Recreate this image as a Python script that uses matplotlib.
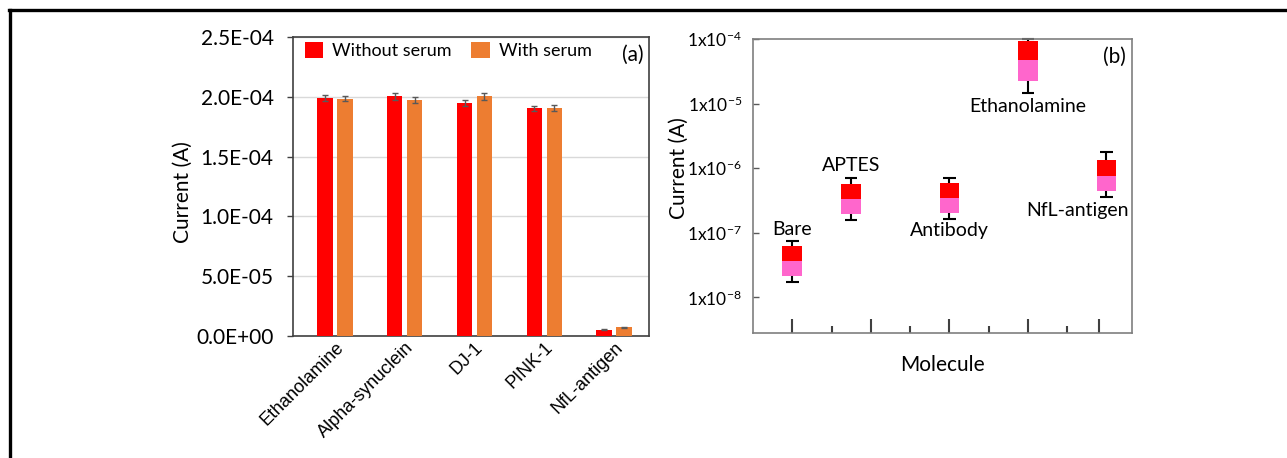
import matplotlib
matplotlib.use('Agg')
import matplotlib.pyplot as plt
import numpy as np
from matplotlib.lines import Line2D
from matplotlib.ticker import FixedLocator, NullLocator

plt.rcParams['font.family'] = ['Lato', 'DejaVu Sans']
plt.rcParams['mathtext.fontset'] = 'custom'
plt.rcParams['mathtext.rm'] = 'Lato'
plt.rcParams['mathtext.it'] = 'Lato'

# ---------------------------------------------------------------------------
# Data, panel (a)
targets = ['Ethanolamine', 'Alpha-synuclein', 'DJ-1', 'PINK-1', 'NfL-antigen']
without_serum = [1.99e-4, 2.005e-4, 1.95e-4, 1.905e-4, 5.3e-6]
with_serum = [1.983e-4, 1.975e-4, 2.003e-4, 1.905e-4, 7.3e-6]
err_without = [2.5e-6, 2.8e-6, 2.5e-6, 2.2e-6, 0.4e-6]
err_with = [2.2e-6, 2.5e-6, 2.8e-6, 2.5e-6, 0.4e-6]
yticks_a = [0, 5e-5, 1e-4, 1.5e-4, 2e-4, 2.5e-4]
yticklabels_a = ['0.0E+00', '5.0E-05', '1.0E-04', '1.5E-04', '2.0E-04', '2.5E-04']

# Data, panel (b)
molecules = ['Bare', 'APTES', 'Antibody', 'Ethanolamine', 'NfL-antigen']
mol_pos = [1, 2.5, 5, 7, 9]
whisk_max = [7.5e-8, 7.06e-7, 7.06e-7, 1.0e-4, 1.78e-6]
q3 = [6.2e-8, 5.7e-7, 5.9e-7, 9.2e-5, 1.36e-6]
median = [3.65e-8, 3.3e-7, 3.44e-7, 4.67e-5, 7.6e-7]
q1 = [2.1e-8, 1.94e-7, 1.99e-7, 2.27e-5, 4.38e-7]
whisk_min = [1.74e-8, 1.57e-7, 1.64e-7, 1.47e-5, 3.63e-7]
yticks_b = [1e-8, 1e-7, 1e-6, 1e-5, 1e-4]
yticklabels_b = [r'1x10$^{-8}$', r'1x10$^{-7}$', r'1x10$^{-6}$', r'1x10$^{-5}$', r'1x10$^{-4}$']
major_xticks_b = [1, 3, 5, 7, 8.8]
minor_xticks_b = [2, 4, 6, 8]

# ---------------------------------------------------------------------------
W, H = 1287, 458
fig = plt.figure(figsize=(W / 100, H / 100), dpi=100)

# Outer frame (top and left edges only)
fig.add_artist(Line2D([9 / W, 1.0], [1 - 10 / H, 1 - 10 / H], color='black', lw=2.4, transform=fig.transFigure))
fig.add_artist(Line2D([10 / W, 10 / W], [0, 1 - 10 / H], color='black', lw=2.4, transform=fig.transFigure))

# ---------------------------------------------------------------------------
# Panel (a): bar chart
ax1 = fig.add_axes([293 / W, 1 - 336 / H, 356 / W, 299 / H])
x = np.arange(len(targets))
bw = 0.22
ax1.bar(x - 0.143, without_serum, bw, color='#ff0000', label='Without serum', zorder=3)
ax1.bar(x + 0.143, with_serum, bw, color='#ed7d31', label='With serum', zorder=3)
ax1.errorbar(x - 0.143, without_serum, yerr=err_without, fmt='none', ecolor='#595959', elinewidth=1, capsize=2.5, zorder=4)
ax1.errorbar(x + 0.143, with_serum, yerr=err_with, fmt='none', ecolor='#595959', elinewidth=1, capsize=2.5, zorder=4)

ax1.set_xlim(-0.6, 4.5)
ax1.set_ylim(0, 2.5e-4)
ax1.set_yticks(yticks_a)
ax1.set_yticklabels(yticklabels_a, fontsize=15)
ax1.yaxis.grid(True, color='#d9d9d9', lw=1, zorder=0)
ax1.set_axisbelow(True)
ax1.tick_params(axis='y', direction='out', length=4, width=1, pad=10, color='#404040')
ax1.set_xticks(x)
ax1.set_xticklabels(targets, rotation=45, ha='right', rotation_mode='anchor', fontsize=13, family='Liberation Sans')
ax1.tick_params(axis='x', length=0, pad=2)
for s in ax1.spines.values():
    s.set_color('#404040')
    s.set_linewidth(1.2)
ax1.set_ylabel('Current (A)', fontsize=15)
ax1.yaxis.set_label_coords(-0.281, 0.483)

ax1.legend(loc='upper left', bbox_to_anchor=(12 / 356, 1 - 5 / 299), ncol=2, frameon=False, fontsize=13,
           handlelength=1.0, handleheight=1.0, handletextpad=0.5, columnspacing=1.1, borderaxespad=0, borderpad=0)
ax1.text(0.985, 0.94, '(a)', transform=ax1.transAxes, ha='right', va='center', fontsize=15)

# ---------------------------------------------------------------------------
# Panel (b): box plot, log scale
ax2 = fig.add_axes([753 / W, 1 - 333 / H, 379 / W, 294 / H])
ax2.set_yscale('log')
ax2.set_xlim(0, 9.65)
ax2.set_ylim(2.8e-9, 1e-4)

for xp, wmax, hi, med, lo, wmin in zip(mol_pos, whisk_max, q3, median, q1, whisk_min):
    ax2.vlines(xp, hi, wmax, color='black', lw=1.5, zorder=2)
    ax2.vlines(xp, wmin, lo, color='black', lw=1.5, zorder=2)
    ax2.hlines([wmax, wmin], xp - 0.16, xp + 0.16, color='black', lw=1.5, zorder=2, clip_on=False)
    ax2.bar(xp, hi - med, 0.5, bottom=med, color='#ff0000', zorder=3)
    ax2.bar(xp, med - lo, 0.5, bottom=lo, color='#ff66cc', zorder=3)

ax2.yaxis.set_major_locator(FixedLocator(yticks_b))
ax2.yaxis.set_minor_locator(NullLocator())
ax2.set_yticklabels(yticklabels_b, fontsize=12.5)
ax2.tick_params(axis='y', direction='in', length=4, width=1, pad=8, color='#595959')
ax2.set_xticks(major_xticks_b)
ax2.set_xticks(minor_xticks_b, minor=True)
ax2.set_xticklabels([])
ax2.tick_params(axis='x', which='major', direction='in', length=10, width=1.5, color='#404040')
ax2.tick_params(axis='x', which='minor', direction='in', length=5, width=1.5, color='#404040')
for s in ax2.spines.values():
    s.set_color('#7f7f7f')
    s.set_linewidth(1.2)

ax2.set_ylabel('Current (A)', fontsize=15)
ax2.yaxis.set_label_coords(-0.168, 0.56)
ax2.set_xlabel('Molecule', fontsize=15)
ax2.xaxis.set_label_coords(0.5, -0.075)

# Molecule labels
ax2.annotate(molecules[0], (mol_pos[0], whisk_max[0]), xytext=(0, 2), textcoords='offset points', ha='center', va='bottom', fontsize=14)
ax2.annotate(molecules[1], (mol_pos[1], whisk_max[1]), xytext=(0, 3), textcoords='offset points', ha='center', va='bottom', fontsize=14)
ax2.annotate(molecules[2], (mol_pos[2], whisk_min[2]), xytext=(0, -2), textcoords='offset points', ha='center', va='top', fontsize=14)
ax2.annotate(molecules[3], (mol_pos[3], whisk_min[3]), xytext=(0, -4), textcoords='offset points', ha='center', va='top', fontsize=14)
ax2.annotate(molecules[4], (8.26, whisk_min[4]), xytext=(0, -4), textcoords='offset points', ha='center', va='top', fontsize=14)
ax2.text(0.985, 0.94, '(b)', transform=ax2.transAxes, ha='right', va='center', fontsize=15)

plt.savefig('out.png', dpi=100)
